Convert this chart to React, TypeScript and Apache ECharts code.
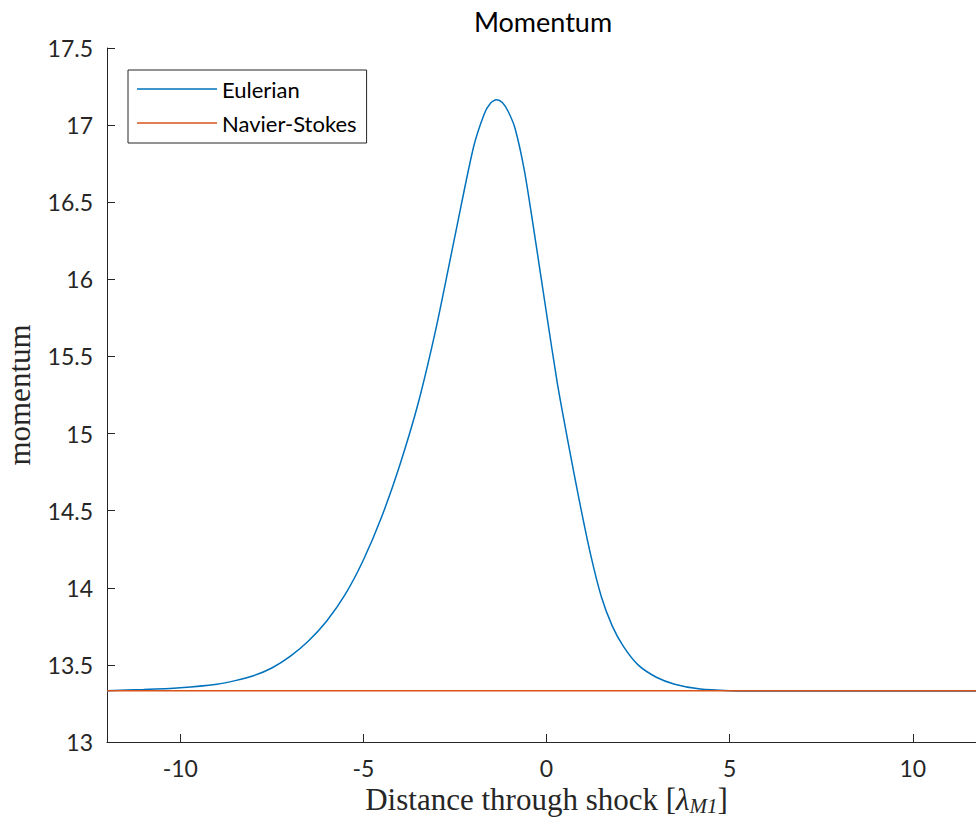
import React, { useEffect, useRef } from "react";
import * as echarts from "echarts";

const X_TICKS = [-10, -5, 0, 5, 10];
const EULER_X = [
  -12, -11, -10, -9, -8.5, -8, -7.5, -7, -6.5, -6, -5.5, -5, -4.5, -4, -3.5, -3, -2.5, -2, -1.7, -1.53,
  -1.36, -1.2, -1.05, -0.86, -0.6, -0.3, 0, 0.3, 0.6, 0.9, 1.2, 1.5, 1.8, 2.1, 2.5, 3, 3.5, 4.2, 5, 6, 8,
  10, 12,
];
const EULER_Y = [
  13.333, 13.34, 13.352, 13.375, 13.398, 13.43, 13.48, 13.555, 13.655, 13.785, 13.955, 14.18, 14.46, 14.8,
  15.2, 15.7, 16.28, 16.85, 17.072, 17.142, 17.165, 17.145, 17.09, 16.98, 16.7, 16.25, 15.78, 15.32,
  14.93, 14.56, 14.22, 13.94, 13.75, 13.62, 13.5, 13.42, 13.375, 13.343, 13.333, 13.331, 13.33, 13.33,
  13.33,
];
const NS_X = [-12, -8, -4, 0, 4, 8, 12];
const NS_Y = [13.333, 13.333, 13.333, 13.333, 13.333, 13.333, 13.333];

const INK = "#262626";

export default function App() {
  const ref = useRef<HTMLDivElement>(null);
  useEffect(() => {
    const chart = echarts.init(ref.current!, null, { renderer: "svg" });
    chart.setOption({
      animation: false,
      backgroundColor: "#ffffff",
      title: {
        text: "Momentum",
        left: 543,
        top: 8,
        textAlign: "center",
        padding: 0,
        textStyle: { fontFamily: "Lato", fontSize: 27, fontWeight: "normal", color: "#000" },
      },
      legend: {
        orient: "vertical",
        left: 128,
        top: 70,
        padding: [8, 10, 9, 9],
        itemWidth: 80,
        itemHeight: 1.5,
        itemGap: 12,
        icon: "rect",
        borderColor: INK,
        borderWidth: 1,
        backgroundColor: "#fff",
        textStyle: { fontFamily: "Lato", fontSize: 22, color: "#000", lineHeight: 22 },
        data: ["Eulerian", "Navier-Stokes"],
      },
      grid: {
        left: 107,
        top: 48,
        right: 4,
        bottom: 81,
        containLabel: false,
        outerBoundsMode: "none",
      },
      xAxis: {
        type: "value",
        min: -12,
        max: 12,
        axisLine: { show: true, onZero: false, lineStyle: { color: INK, width: 1 } },
        axisTick: { show: true, inside: true, length: 8, customValues: X_TICKS, lineStyle: { color: INK } },
        axisLabel: { customValues: X_TICKS, fontFamily: "Lato", fontSize: 23, color: INK, margin: 14 },
        splitLine: { show: false },
        name: "{a|Distance through shock [}{l|λ}{s|M1}{a|]}",
        nameLocation: "middle",
        nameGap: 35,
        nameTextStyle: {
          color: INK,
          rich: {
            a: { fontFamily: "Liberation Serif", fontSize: 31, color: INK, lineHeight: 34 },
            l: { fontFamily: "Liberation Serif", fontSize: 31, fontStyle: "italic", color: INK, lineHeight: 34 },
            s: {
              fontFamily: "Liberation Serif",
              fontSize: 21,
              fontStyle: "italic",
              color: INK,
              lineHeight: 14,
              verticalAlign: "bottom",
            },
          },
        },
      },
      yAxis: {
        type: "value",
        min: 13,
        max: 17.5,
        interval: 0.5,
        axisLine: { show: true, onZero: false, lineStyle: { color: INK, width: 1 } },
        axisTick: { show: true, inside: true, length: 8, lineStyle: { color: INK } },
        axisLabel: { fontFamily: "Lato", fontSize: 23, color: INK, margin: 14 },
        splitLine: { show: false },
        name: "momentum",
        nameLocation: "middle",
        nameGap: 72,
        nameTextStyle: { fontFamily: "Liberation Serif", fontSize: 31, color: INK },
      },
      series: [
        {
          name: "Eulerian",
          type: "line",
          data: EULER_X.map((x, i) => [x, EULER_Y[i]]),
          symbol: "none",
          smooth: 0.25,
          lineStyle: { color: "#0072BD", width: 1.5 },
          itemStyle: { color: "#0072BD" },
        },
        {
          name: "Navier-Stokes",
          type: "line",
          data: NS_X.map((x, i) => [x, NS_Y[i]]),
          symbol: "none",
          lineStyle: { color: "#D95319", width: 1.5 },
          itemStyle: { color: "#D95319" },
        },
      ],
    });
    return () => chart.dispose();
  }, []);
  return (
    <div
      style={{
        position: "absolute",
        left: 0,
        top: 0,
        width: 976,
        height: 823,
        overflow: "hidden",
        background: "#fff",
      }}
    >
      <div ref={ref} style={{ width: 990, height: 823 }} />
    </div>
  );
}
